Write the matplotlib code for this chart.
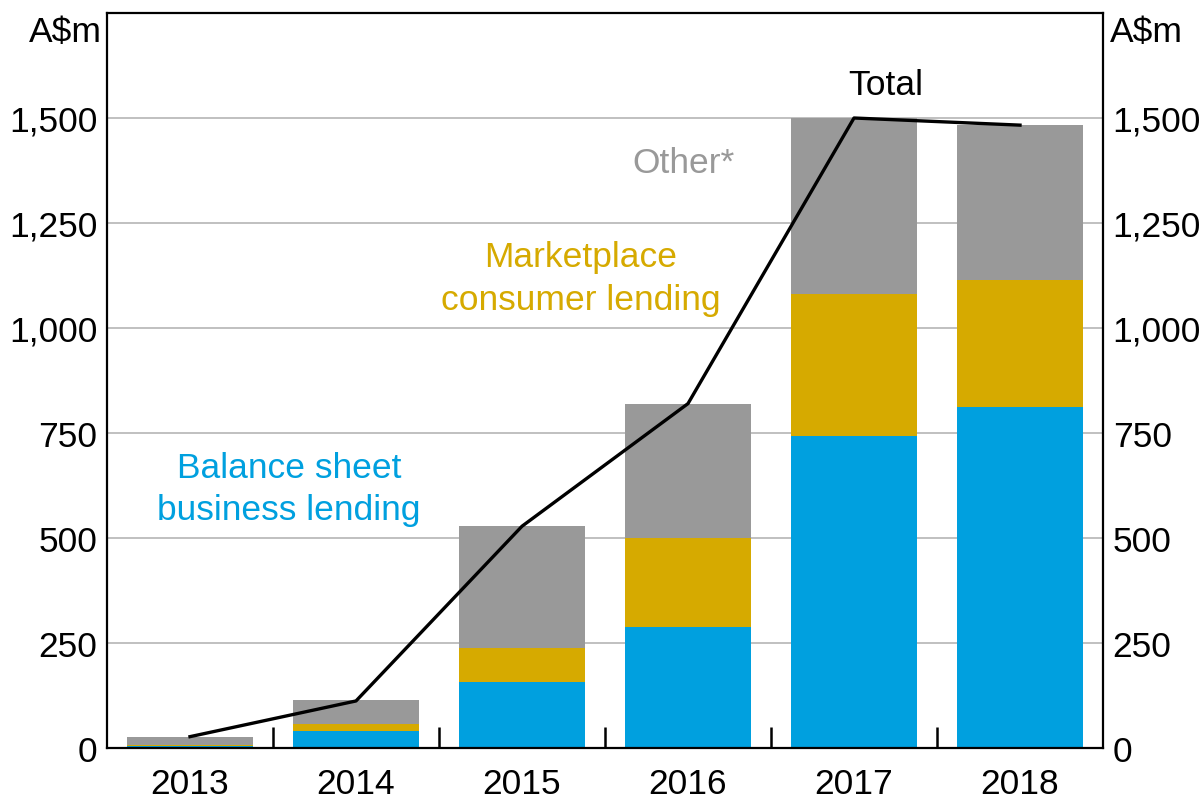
import matplotlib
matplotlib.use("Agg")
import matplotlib.pyplot as plt
import matplotlib.ticker as mticker
import numpy as np

plt.rcParams.update({
    "font.family": ["Liberation Sans", "DejaVu Sans"],
    "font.size": 25.5,
})

BLUE = "#00A0DF"
GOLD = "#D6AA00"
GREY = "#999999"

# data (A$m)
years = ["2013", "2014", "2015", "2016", "2017", "2018"]
balance_sheet = [4, 40, 156, 288, 744, 811]
marketplace = [4, 18, 82, 212, 336, 303]
other = [19, 57, 290, 320, 420, 369]
total = [27, 112, 528, 820, 1500, 1483]

x = np.arange(len(years))
FS = 25.5

fig = plt.figure(figsize=(12.04, 8.03), dpi=100)
ax = fig.add_axes([107 / 1204, 54 / 803, 996 / 1204, 735 / 803])

bottom2 = np.array(balance_sheet)
bottom3 = bottom2 + np.array(marketplace)
ax.bar(x, balance_sheet, width=0.76, color=BLUE, zorder=2)
ax.bar(x, marketplace, width=0.76, bottom=bottom2, color=GOLD, zorder=2)
ax.bar(x, other, width=0.76, bottom=bottom3, color=GREY, zorder=2)
ax.plot(x, total, color="black", lw=2.4, zorder=3)

ax.set_xlim(-0.5, 5.5)
ax.set_ylim(0, 1750)
ax.set_yticks(np.arange(0, 1501, 250))
ax.yaxis.set_major_formatter(mticker.FuncFormatter(lambda v, _: f"{int(v):,}"))
ax.grid(axis="y", color="#BBBBBB", lw=1.3, zorder=0)
ax.tick_params(axis="y", length=0, pad=7, labelsize=FS)
ax.tick_params(axis="y", which="both", right=False, labelright=True)

ax.set_xticks(x)
ax.set_xticklabels(years)
ax.tick_params(axis="x", which="major", length=0, pad=14, labelsize=FS)
ax.set_xticks(np.arange(0.5, 5, 1), minor=True)
ax.tick_params(axis="x", which="minor", direction="in", length=15, width=1.8)

for s in ax.spines.values():
    s.set_linewidth(1.6)

fig.text(102 / 1204, 1 - 33 / 803, "A$m", ha="right", va="center", fontsize=FS)
fig.text(1110 / 1204, 1 - 33 / 803, "A$m", ha="left", va="center", fontsize=FS)

ax.text(4.19, 1579, "Total", ha="center", va="center", fontsize=FS, color="black")
ax.text(2.97, 1393, "Other*", ha="center", va="center", fontsize=FS, color=GREY)
ax.text(2.355, 1119, "Marketplace\nconsumer lending", ha="center", va="center",
        fontsize=FS, color=GOLD, linespacing=1.35)
ax.text(0.596, 618, "Balance sheet\nbusiness lending", ha="center", va="center",
        fontsize=FS, color=BLUE, linespacing=1.35)

fig.savefig("out.png", dpi=100)
